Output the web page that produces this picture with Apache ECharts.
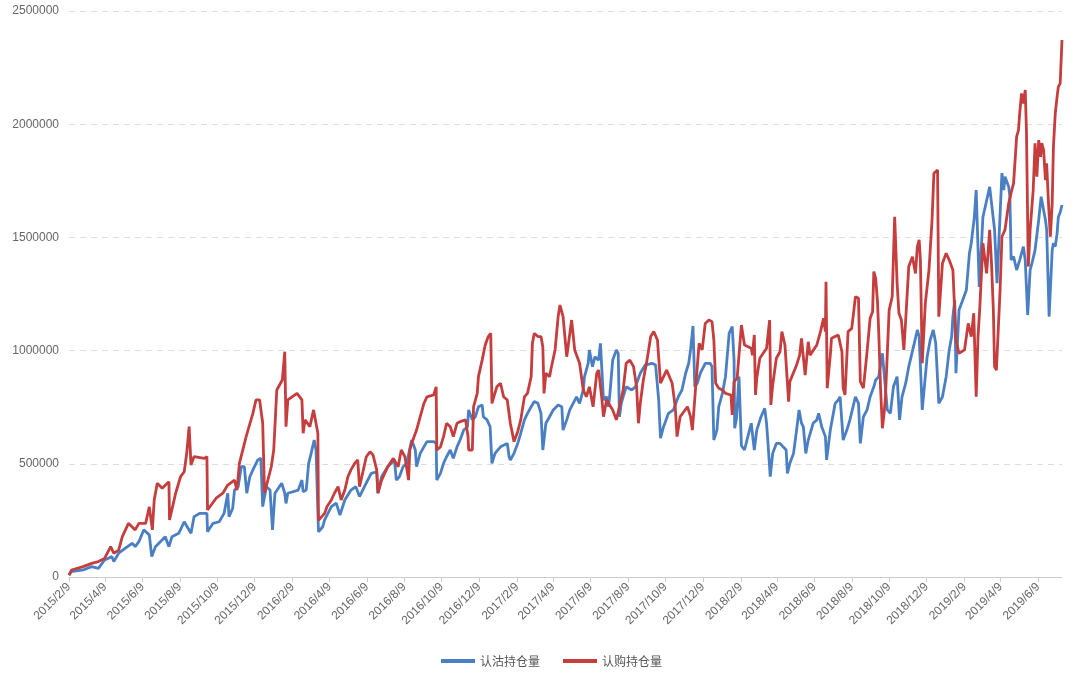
<!DOCTYPE html>
<html>
<head>
<meta charset="utf-8">
<script src="https://cdn.jsdelivr.net/npm/echarts@6/dist/echarts.min.js"></script>
<style>
html,body{margin:0;padding:0;background:#fff;}
#chart{width:1074px;height:675px;}
</style>
</head>
<body>
<div id="chart"></div>
<script>
const seriesNames = ['认沽持仓量', '认购持仓量'];
const xTickLabels = ['2015/2/9','2015/4/9','2015/6/9','2015/8/9','2015/10/9','2015/12/9','2016/2/9','2016/4/9','2016/6/9','2016/8/9','2016/10/9','2016/12/9','2017/2/9','2017/4/9','2017/6/9','2017/8/9','2017/10/9','2017/12/9','2018/2/9','2018/4/9','2018/6/9','2018/8/9','2018/10/9','2018/12/9','2019/2/9','2019/4/9','2019/6/9'];
const xStart = '2015/2/9';
const xEnd = '2019/7/18';
const yTicks = [0, 500000, 1000000, 1500000, 2000000, 2500000];

// 认沽持仓量 (put open interest)
const putData = [
['2015/2/9',8000],['2015/2/13',24000],['2015/3/4',31000],['2015/3/18',46000],['2015/3/29',38000],['2015/4/8',75000],['2015/4/20',90000],['2015/4/23',68000],['2015/5/1',105000],['2015/5/12',127000],['2015/5/23',149000],['2015/5/28',134000],['2015/6/3',156000],['2015/6/11',208000],['2015/6/20',186000],['2015/6/24',90000],['2015/6/30',134000],['2015/7/16',178000],['2015/7/22',134000],['2015/7/27',178000],['2015/8/7',193000],['2015/8/16',244000],['2015/8/27',193000],['2015/9/1',266000],['2015/9/10',281000],['2015/9/22',281000],['2015/9/23',200000],['2015/10/2',237000],['2015/10/12',244000],['2015/10/20',281000],['2015/10/26',370000],['2015/10/28',266000],['2015/11/3',303000],['2015/11/6',384000],['2015/11/12',399000],['2015/11/17',487000],['2015/11/22',487000],['2015/11/26',370000],['2015/12/1',443000],['2015/12/6',473000],['2015/12/14',517000],['2015/12/19',524000],['2015/12/22',311000],['2015/12/28',399000],
['2016/1/3',384000],['2016/1/7',208000],['2016/1/11',370000],['2016/1/22',414000],['2016/1/27',370000],['2016/1/29',325000],['2016/2/1',370000],['2016/2/18',384000],['2016/2/24',428000],['2016/2/26',377000],['2016/3/2',384000],['2016/3/6',502000],['2016/3/10',546000],['2016/3/15',605000],['2016/3/18',561000],['2016/3/22',200000],['2016/3/29',222000],['2016/4/1',252000],['2016/4/12',311000],['2016/4/20',326000],['2016/4/26',274000],['2016/5/4',340000],['2016/5/14',384000],['2016/5/22',399000],['2016/5/28',355000],['2016/6/5',399000],['2016/6/16',458000],['2016/6/25',465000],['2016/6/27',370000],['2016/7/3',443000],['2016/7/13',487000],['2016/7/24',517000],['2016/7/27',428000],['2016/8/1',443000],['2016/8/7',487000],['2016/8/13',502000],['2016/8/21',605000],['2016/8/27',561000],['2016/8/29',487000],['2016/9/4',546000],['2016/9/10',575000],['2016/9/15',598000],['2016/9/26',598000],['2016/9/30',590000],['2016/10/1',428000],['2016/10/7',458000],['2016/10/12',502000],['2016/10/17',531000],['2016/10/23',561000],['2016/10/28',524000],['2016/11/3',575000],['2016/11/8',605000],['2016/11/14',649000],['2016/11/20',664000],['2016/11/22',738000],['2016/11/28',694000],['2016/12/3',708000],['2016/12/8',752000],['2016/12/14',760000],['2016/12/16',708000],['2016/12/22',694000],['2016/12/27',664000],['2016/12/30',502000],
['2017/1/4',546000],['2017/1/13',575000],['2017/1/24',590000],['2017/1/27',531000],['2017/1/29',517000],['2017/2/4',546000],['2017/2/10',590000],['2017/2/15',635000],['2017/2/21',694000],['2017/2/26',723000],['2017/3/4',752000],['2017/3/9',775000],['2017/3/15',767000],['2017/3/20',723000],['2017/3/23',561000],['2017/3/28',679000],['2017/4/3',708000],['2017/4/9',738000],['2017/4/17',760000],['2017/4/23',752000],['2017/4/25',649000],['2017/5/1',694000],['2017/5/6',738000],['2017/5/17',796000],['2017/5/22',767000],['2017/5/28',826000],['2017/5/30',885000],['2017/6/5',944000],['2017/6/7',1003000],['2017/6/12',929000],['2017/6/16',973000],['2017/6/22',958000],['2017/6/25',1032000],['2017/6/30',782000],['2017/7/5',796000],['2017/7/8',752000],['2017/7/10',796000],['2017/7/15',958000],['2017/7/21',1003000],['2017/7/24',988000],['2017/7/26',708000],['2017/7/29',767000],['2017/8/1',796000],['2017/8/6',840000],['2017/8/15',826000],['2017/8/21',840000],['2017/8/29',900000],['2017/9/6',936000],['2017/9/17',944000],['2017/9/23',936000],['2017/9/28',782000],['2017/10/1',613000],['2017/10/6',664000],['2017/10/14',723000],['2017/10/22',738000],['2017/10/30',796000],['2017/11/5',826000],['2017/11/11',900000],['2017/11/16',944000],['2017/11/19',1003000],['2017/11/23',1109000],['2017/11/26',840000],['2017/11/30',856000],['2017/12/5',900000],['2017/12/13',944000],['2017/12/21',944000],['2017/12/24',929000],['2017/12/27',605000],
['2018/1/1',649000],['2018/1/4',752000],['2018/1/10',811000],['2018/1/15',885000],['2018/1/21',1076000],['2018/1/26',1106000],['2018/1/29',958000],['2018/1/30',657000],['2018/2/2',700000],['2018/2/6',885000],['2018/2/10',580000],['2018/2/15',561000],['2018/2/26',679000],['2018/3/3',561000],['2018/3/7',649000],['2018/3/14',708000],['2018/3/20',745000],['2018/3/23',679000],['2018/3/25',605000],['2018/3/29',443000],['2018/4/2',546000],['2018/4/8',590000],['2018/4/14',590000],['2018/4/19',575000],['2018/4/24',561000],['2018/4/26',458000],['2018/4/30',502000],['2018/5/6',546000],['2018/5/11',649000],['2018/5/15',738000],['2018/5/19',679000],['2018/5/22',664000],['2018/5/26',546000],['2018/5/30',605000],['2018/6/7',679000],['2018/6/13',694000],['2018/6/16',723000],['2018/6/21',664000],['2018/6/27',620000],['2018/6/29',517000],['2018/7/5',649000],['2018/7/10',723000],['2018/7/13',767000],['2018/7/18',782000],['2018/7/21',796000],['2018/7/26',605000],['2018/8/1',649000],['2018/8/6',694000],['2018/8/15',796000],['2018/8/20',767000],['2018/8/23',590000],['2018/8/28',708000],['2018/9/3',738000],['2018/9/8',796000],['2018/9/14',840000],['2018/9/17',870000],['2018/9/22',885000],['2018/9/28',988000],['2018/10/6',738000],['2018/10/11',723000],['2018/10/16',840000],['2018/10/22',885000],['2018/10/26',694000],['2018/10/30',796000],['2018/11/5',856000],['2018/11/10',929000],['2018/11/19',1032000],['2018/11/24',1091000],['2018/11/27',1062000],['2018/12/2',738000],['2018/12/5',826000],['2018/12/10',973000],['2018/12/15',1047000],['2018/12/20',1091000],['2018/12/24',1032000],['2018/12/29',767000],
['2019/1/4',796000],['2019/1/10',885000],['2019/1/15',1003000],['2019/1/19',1062000],['2019/1/21',1150000],['2019/1/24',1223000],['2019/1/26',900000],['2019/1/31',1179000],['2019/2/6',1223000],['2019/2/12',1268000],['2019/2/17',1430000],['2019/2/20',1475000],['2019/2/25',1590000],['2019/2/28',1709000],['2019/3/5',1281000],['2019/3/11',1590000],['2019/3/22',1723000],['2019/3/30',1533000],['2019/4/3',1298000],['2019/4/11',1784000],['2019/4/14',1709000],['2019/4/16',1768000],['2019/4/22',1724000],['2019/4/24',1680000],['2019/4/26',1400000],['2019/4/30',1415000],['2019/5/5',1356000],['2019/5/10',1400000],['2019/5/16',1459000],['2019/5/19',1400000],['2019/5/23',1157000],['2019/5/27',1356000],['2019/5/30',1386000],['2019/6/4',1444000],['2019/6/10',1577000],['2019/6/14',1680000],['2019/6/18',1621000],['2019/6/21',1577000],['2019/6/23',1533000],['2019/6/27',1150000],['2019/7/2',1444000],['2019/7/4',1474000],['2019/7/7',1459000],['2019/7/10',1518000],['2019/7/12',1590000],['2019/7/15',1610000],['2019/7/18',1643000]
];

// 认购持仓量 (call open interest)
const callData = [
['2015/2/9',8000],['2015/2/13',31000],['2015/3/4',46000],['2015/3/18',60000],['2015/3/29',68000],['2015/4/8',82000],['2015/4/18',134000],['2015/4/23',105000],['2015/5/1',119000],['2015/5/7',178000],['2015/5/17',237000],['2015/5/28',208000],['2015/6/3',237000],['2015/6/14',237000],['2015/6/20',310000],['2015/6/25',208000],['2015/6/28',340000],['2015/7/3',414000],['2015/7/11',392000],['2015/7/22',421000],['2015/7/23',252000],['2015/8/2',370000],['2015/8/10',443000],['2015/8/16',465000],['2015/8/20',546000],['2015/8/24',664000],['2015/8/27',495000],['2015/9/1',532000],['2015/9/18',524000],['2015/9/22',532000],['2015/9/23',296000],['2015/10/7',348000],['2015/10/18',370000],['2015/10/26',406000],['2015/11/6',428000],['2015/11/10',384000],['2015/11/14',502000],['2015/11/25',620000],['2015/12/6',723000],['2015/12/11',782000],['2015/12/17',782000],['2015/12/22',679000],['2015/12/25',370000],
['2016/1/5',487000],['2016/1/9',561000],['2016/1/14',826000],['2016/1/23',870000],['2016/1/27',995000],['2016/1/29',664000],['2016/2/1',782000],['2016/2/16',811000],['2016/2/24',782000],['2016/2/26',635000],['2016/2/29',694000],['2016/3/8',664000],['2016/3/14',738000],['2016/3/21',635000],['2016/3/22',250000],['2016/4/1',281000],['2016/4/5',311000],['2016/4/12',340000],['2016/4/17',370000],['2016/4/23',399000],['2016/4/28',340000],['2016/5/4',384000],['2016/5/9',443000],['2016/5/14',473000],['2016/5/20',502000],['2016/5/25',517000],['2016/5/28',399000],['2016/6/2',458000],['2016/6/8',531000],['2016/6/14',553000],['2016/6/19',539000],['2016/6/25',473000],['2016/6/27',370000],['2016/7/3',428000],['2016/7/13',487000],['2016/7/22',524000],['2016/7/30',487000],['2016/8/4',561000],['2016/8/10',531000],['2016/8/16',428000],['2016/8/18',561000],['2016/8/21',590000],['2016/8/29',649000],['2016/9/4',708000],['2016/9/10',767000],['2016/9/15',796000],['2016/9/26',804000],['2016/9/30',840000],['2016/10/1',561000],['2016/10/7',575000],['2016/10/12',620000],['2016/10/17',679000],['2016/10/23',664000],['2016/10/28',620000],['2016/11/3',679000],['2016/11/8',686000],['2016/11/17',694000],['2016/11/21',620000],['2016/11/22',561000],['2016/11/28',561000],['2016/11/30',752000],['2016/12/6',811000],['2016/12/8',885000],['2016/12/14',958000],['2016/12/19',1025000],['2016/12/24',1062000],['2016/12/28',1076000],['2016/12/30',767000],
['2017/1/2',796000],['2017/1/7',840000],['2017/1/13',856000],['2017/1/18',796000],['2017/1/24',782000],['2017/1/29',679000],['2017/2/4',598000],['2017/2/10',642000],['2017/2/15',694000],['2017/2/21',796000],['2017/2/26',811000],['2017/3/4',885000],['2017/3/6',1032000],['2017/3/9',1076000],['2017/3/15',1062000],['2017/3/20',1062000],['2017/3/23',1017000],['2017/3/25',811000],['2017/3/28',900000],['2017/4/3',885000],['2017/4/5',914000],['2017/4/12',1003000],['2017/4/17',1150000],['2017/4/20',1201000],['2017/4/25',1150000],['2017/5/1',973000],['2017/5/9',1135000],['2017/5/14',1003000],['2017/5/22',944000],['2017/5/28',826000],['2017/6/2',796000],['2017/6/7',840000],['2017/6/13',752000],['2017/6/19',900000],['2017/6/22',914000],['2017/6/27',796000],['2017/6/30',708000],['2017/7/5',782000],['2017/7/15',738000],['2017/7/21',694000],['2017/7/26',752000],['2017/8/1',826000],['2017/8/6',944000],['2017/8/12',958000],['2017/8/18',929000],['2017/8/23',840000],['2017/8/26',679000],['2017/8/29',767000],['2017/9/3',870000],['2017/9/9',958000],['2017/9/15',1062000],['2017/9/20',1084000],['2017/9/26',1047000],['2017/10/1',856000],['2017/10/11',914000],['2017/10/20',856000],['2017/10/25',752000],['2017/10/28',620000],['2017/11/2',708000],['2017/11/14',752000],['2017/11/19',708000],['2017/11/22',649000],['2017/11/27',826000],['2017/12/3',1032000],['2017/12/8',1003000],['2017/12/13',1120000],['2017/12/19',1135000],['2017/12/24',1128000],['2017/12/27',1047000],['2017/12/30',856000],
['2018/1/4',834000],['2018/1/10',826000],['2018/1/15',811000],['2018/1/18',811000],['2018/1/24',804000],['2018/1/26',716000],['2018/1/29',863000],['2018/2/3',878000],['2018/2/10',1113000],['2018/2/15',1025000],['2018/2/26',1010000],['2018/2/28',980000],['2018/3/3',1069000],['2018/3/5',804000],['2018/3/7',878000],['2018/3/12',966000],['2018/3/23',1010000],['2018/3/28',1135000],['2018/3/30',760000],['2018/4/2',848000],['2018/4/8',966000],['2018/4/14',995000],['2018/4/17',1084000],['2018/4/22',1025000],['2018/4/28',775000],['2018/4/30',863000],['2018/5/11',936000],['2018/5/16',980000],['2018/5/19',1054000],['2018/5/25',892000],['2018/5/30',1039000],['2018/6/2',980000],['2018/6/13',1025000],['2018/6/19',1084000],['2018/6/24',1143000],['2018/6/27',1084000],['2018/6/28',1304000],['2018/6/30',834000],['2018/7/5',980000],['2018/7/7',1054000],['2018/7/18',1069000],['2018/7/24',995000],['2018/7/26',834000],['2018/7/29',804000],['2018/8/3',1084000],['2018/8/9',1098000],['2018/8/15',1238000],['2018/8/20',1231000],['2018/8/23',863000],['2018/8/28',834000],['2018/9/3',995000],['2018/9/8',1143000],['2018/9/12',1172000],['2018/9/14',1349000],['2018/9/17',1319000],['2018/9/20',1216000],['2018/9/22',1084000],['2018/9/25',834000],['2018/9/28',657000],['2018/10/1',730000],['2018/10/3',796000],['2018/10/9',1179000],['2018/10/14',1238000],['2018/10/18',1591000],['2018/10/22',1297000],['2018/10/25',1165000],['2018/10/29',1135000],['2018/11/2',1003000],['2018/11/5',1135000],['2018/11/10',1371000],['2018/11/16',1415000],['2018/11/21',1341000],['2018/11/24',1459000],['2018/11/27',1489000],['2018/11/29',1400000],['2018/12/2',944000],['2018/12/7',1209000],['2018/12/13',1356000],['2018/12/18',1577000],['2018/12/21',1783000],['2018/12/27',1798000],['2018/12/29',1150000],
['2019/1/1',1268000],['2019/1/4',1386000],['2019/1/10',1430000],['2019/1/15',1400000],['2019/1/21',1356000],['2019/1/26',1047000],['2019/1/31',988000],['2019/2/9',1003000],['2019/2/15',1120000],['2019/2/20',1062000],['2019/2/24',1165000],['2019/2/28',796000],['2019/3/3',1062000],['2019/3/6',1194000],['2019/3/11',1474000],['2019/3/14',1474000],['2019/3/17',1341000],['2019/3/22',1533000],['2019/3/25',1386000],['2019/3/28',1180000],['2019/3/30',929000],['2019/4/2',914000],['2019/4/5',1091000],['2019/4/8',1268000],['2019/4/11',1503000],['2019/4/16',1533000],['2019/4/22',1650000],['2019/4/27',1709000],['2019/4/30',1739000],['2019/5/5',1945000],['2019/5/8',1974000],['2019/5/10',2048000],['2019/5/13',2136000],['2019/5/16',2092000],['2019/5/19',2151000],['2019/5/21',1974000],['2019/5/24',1371000],['2019/5/27',1533000],['2019/6/1',1709000],['2019/6/4',1916000],['2019/6/7',1768000],['2019/6/10',1930000],['2019/6/13',1856000],['2019/6/15',1916000],['2019/6/18',1886000],['2019/6/21',1753000],['2019/6/23',1827000],['2019/6/26',1650000],['2019/6/29',1503000],['2019/7/2',1650000],['2019/7/4',1900000],['2019/7/7',2048000],['2019/7/10',2122000],['2019/7/12',2165000],['2019/7/15',2180000],['2019/7/18',2372000]
];

function toTime(s) {
  const p = s.split('/').map(Number);
  return new Date(p[0], p[1] - 1, p[2]).getTime();
}
function toSeries(arr) { return arr.map(d => [toTime(d[0]), d[1]]); }
const tickTimes = xTickLabels.map(toTime);
function labelFor(v) {
  let best = 0, bd = Infinity;
  tickTimes.forEach((t, i) => { const d = Math.abs(t - v); if (d < bd) { bd = d; best = i; } });
  return bd < 86400000 ? xTickLabels[best] : '';
}

const chart = echarts.init(document.getElementById('chart'), null, {renderer: 'canvas'});
chart.setOption({
  animation: false,
  backgroundColor: '#ffffff',
  color: ['#4a7fc3', '#c63d3d'],
  grid: {left: 69, right: 12, top: 11, bottom: 98, containLabel: false},
  legend: {
    data: seriesNames,
    top: 650,
    left: 436,
    icon: 'rect',
    itemWidth: 34,
    itemHeight: 4,
    itemGap: 23,
    textStyle: {color: '#555', fontSize: 12, fontFamily: 'Noto Sans CJK SC'}
  },
  xAxis: {
    type: 'value',
    min: toTime(xStart),
    max: toTime(xEnd),
    axisLine: {show: true, lineStyle: {color: '#cccccc', width: 1}},
    axisTick: {show: true, customValues: tickTimes, length: 5, lineStyle: {color: '#cccccc'}},
    axisLabel: {
      customValues: tickTimes,
      rotate: 45,
      margin: 8,
      color: '#666',
      fontSize: 12,
      fontFamily: 'Liberation Sans, Arial, sans-serif',
      formatter: v => labelFor(v)
    },
    splitLine: {show: false}
  },
  yAxis: {
    type: 'value',
    min: yTicks[0],
    max: yTicks[yTicks.length - 1],
    interval: yTicks[1] - yTicks[0],
    axisLine: {show: false},
    axisTick: {show: false},
    axisLabel: {color: '#666', fontSize: 12, margin: 10, fontFamily: 'Liberation Sans, Arial, sans-serif',
      formatter: v => String(v)},
    splitLine: {show: true, lineStyle: {color: '#dddddd', type: [6, 5], width: 1}}
  },
  series: [
    {name: seriesNames[0], type: 'line', data: toSeries(putData), showSymbol: false, symbol: 'none',
     lineStyle: {width: 2.8, color: '#4a7fc3'}},
    {name: seriesNames[1], type: 'line', data: toSeries(callData), showSymbol: false, symbol: 'none',
     lineStyle: {width: 2.8, color: '#c63d3d'}}
  ]
});
</script>
</body>
</html>
